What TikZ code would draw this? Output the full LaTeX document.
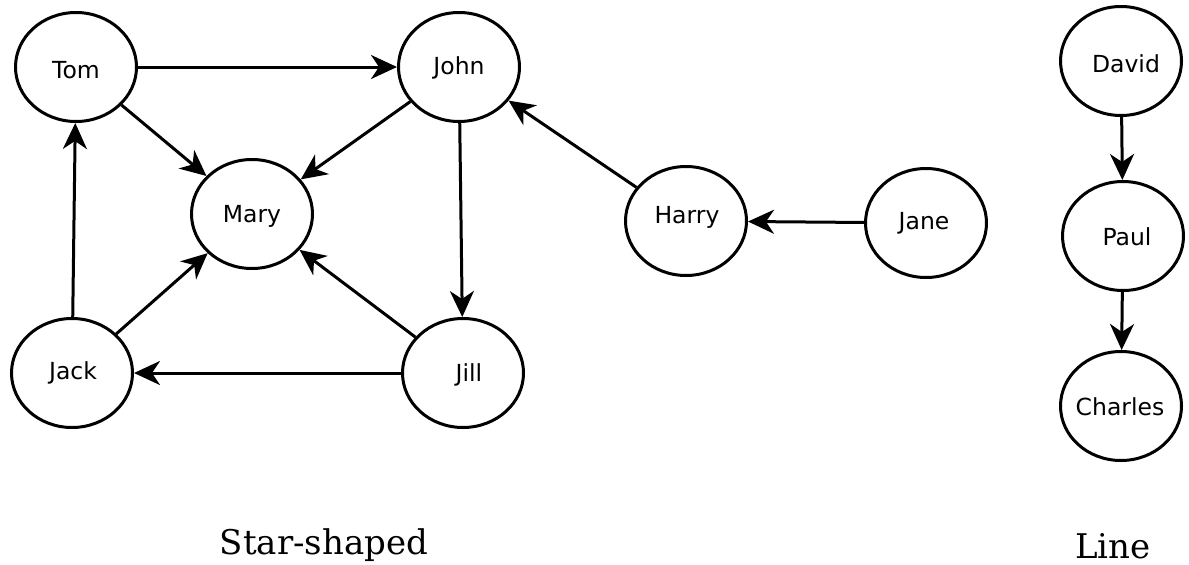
\documentclass[tikz,border=0pt]{standalone}
\usepackage{fontspec}
\setmainfont{DejaVu Serif}
\newfontfamily\dvs{DejaVu Sans}
\usetikzlibrary{shapes.geometric,arrows.meta}
\begin{document}
\begin{tikzpicture}[x=1pt,y=-1pt,
  person/.style={ellipse, draw, line width=3pt, minimum width=121pt, minimum height=109pt, inner sep=0pt},
  nametext/.style={font=\dvs\fontsize{23.5}{26}\selectfont, inner sep=0pt},
  conn/.style={line width=3pt, -{Stealth[length=26pt,width=24pt,inset=8pt]}},
  captext/.style={font=\fontsize{34}{38}\selectfont, inner sep=0pt}]
\useasboundingbox (0,0) rectangle (1189,565);
\node[person] (tom) at (76,67) {};
\node[person] (john) at (459,67) {};
\node[person] (mary) at (252,214) {};
\node[person] (jack) at (72,373) {};
\node[person] (jill) at (463,373) {};
\node[person] (harry) at (686,221) {};
\node[person] (jane) at (926,223) {};
\node[person] (david) at (1121,61) {};
\node[person] (paul) at (1123,236) {};
\node[person] (charles) at (1121,406) {};
\node[nametext] (tomt) at (76,70) {Tom};
\node[nametext] (johnt) at (459,68) {John};
\node[nametext] (maryt) at (252,216) {Mary};
\node[nametext] (jackt) at (73,373) {Jack};
\node[nametext] (jillt) at (469,375) {Jill};
\node[nametext] (harryt) at (687,217) {Harry};
\node[nametext] (janet) at (924,223) {Jane};
\node[nametext] (davidt) at (1126,64) {David};
\node[nametext] (pault) at (1127,237) {Paul};
\node[nametext] (charlest) at (1120,407) {Charles};
\draw[conn] (tom) -- (john);
\draw[conn] (tom) -- (mary);
\draw[conn] (john) -- (mary);
\draw[conn] (john) -- (jill);
\draw[conn] (jack) -- (tom);
\draw[conn] (jack) -- (mary);
\draw[conn] (jill) -- (mary);
\draw[conn] (jill) -- (jack);
\draw[conn] (harry) -- (john);
\draw[conn] (jane) -- (harry);
\draw[conn] (david) -- (paul);
\draw[conn] (paul) -- (charles);
\node[captext] (star) at (324,545) {Star-shaped};
\node[captext] (line) at (1113,546) {Line};
\end{tikzpicture}
\end{document}
